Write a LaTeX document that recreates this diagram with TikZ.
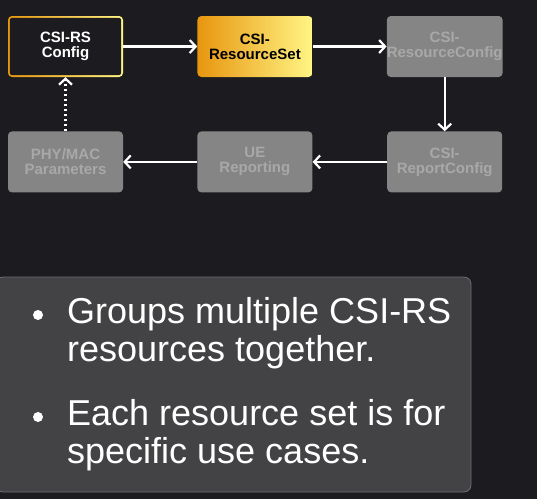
\documentclass[tikz,border=0pt]{standalone}
\usepackage{fontspec}
\setmainfont{Liberation Sans}
\usetikzlibrary{arrows.meta}
\usetikzlibrary{positioning}

\definecolor{bgdark}{HTML}{1B1B20}
\definecolor{boxgrey}{HTML}{858585}
\definecolor{boxtext}{HTML}{A8A8A8}
\definecolor{panelgrey}{HTML}{434345}
\definecolor{paneledge}{HTML}{6E6E70}
\definecolor{goldA}{HTML}{E8960F}
\definecolor{goldB}{HTML}{FFF585}

\begin{document}
\begin{tikzpicture}[x=1pt,y=-1pt]
        \tikzset{box/.style={minimum width=115pt, minimum height=61pt, inner sep=0pt, rounded corners=4pt, align=center, font=\fontsize{15}{15}\selectfont\bfseries}};
        \tikzset{greybox/.style={box, fill=boxgrey, text=boxtext}};
        \tikzset{line/.style={white, line width=2.2pt, -{Straight Barb[length=6pt,width=13pt]}}};
        \tikzset{itemtext/.style={white, inner sep=0pt, align=left, font=\fontsize{36}{38}\selectfont}};
        \tikzset{dot/.style={circle, fill=white, inner sep=0pt, minimum size=10pt}};

        \fill[bgdark] (0,0) rectangle (537,499);
        \useasboundingbox (0,0) rectangle (537,499);

        % top row
        \node[box, text=white, left color=goldA, right color=goldB,
              path picture={\fill[bgdark, rounded corners=2.5pt]
                ([shift={(1.8pt,-1.8pt)}]path picture bounding box.north west) rectangle
                ([shift={(-1.8pt,1.8pt)}]path picture bounding box.south east);}]
              (rsconfig) at (65.5,46.5) {CSI-RS\\Config};
        \node[box, text=black, left color=goldA, middle color=goldB!70!goldA, right color=goldB, right=74pt of rsconfig] (resset) {CSI-\\ResourceSet};
        \node[greybox, right=74pt of resset] (resconfig) {CSI-\\ResourceConfig};

        % bottom row
        \node[greybox, below=54pt of resconfig] (repconfig) {CSI-\\ReportConfig};
        \node[greybox, below=54pt of resset] (uereport) {UE\\Reporting};
        \node[greybox, below=54pt of rsconfig] (phymac) {PHY/MAC\\Parameters};

        \draw[line] (rsconfig) -- (resset);
        \draw[line] (resset) -- (resconfig);
        \draw[line] (resconfig) -- (repconfig);
        \draw[line] (repconfig) -- (uereport);
        \draw[line] (uereport) -- (phymac);
        \draw[line, dash pattern=on 2.5pt off 2.5pt] (phymac) -- (rsconfig);

        % text panel
        \draw[fill=panelgrey, draw=paneledge, line width=0.8pt, rounded corners=7pt] (-4,277) rectangle (471,492);

        \node[dot] (dotA) at (38,315) {};
        \node[itemtext, anchor=base west] (itemA) at (67,361) {Groups multiple CSI-RS\\resources together.};
        \node[dot] (dotB) at (38,417) {};
        \node[itemtext, anchor=base west] (itemB) at (67,463) {Each resource set is for\\specific use cases.};
\end{tikzpicture}
\end{document}
